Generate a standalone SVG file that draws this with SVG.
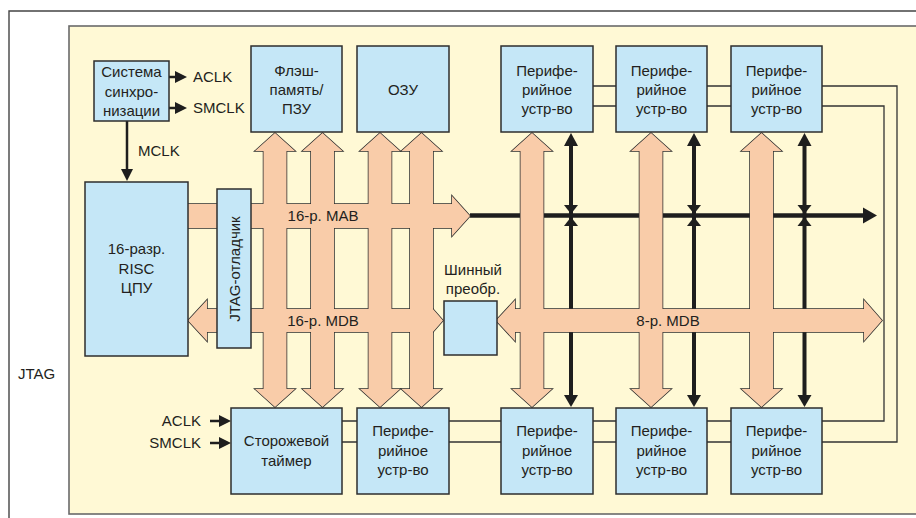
<svg xmlns="http://www.w3.org/2000/svg" width="916" height="518" viewBox="0 0 916 518">
<defs>
<style>
.frame{fill:none;stroke:#444;stroke-width:1.4}
.ybox{fill:#FFF9D5;stroke:#6a6a6a;stroke-width:1.6}
.sig{fill:none;stroke:#333;stroke-width:1.3}
.box{fill:#C5E7F7;stroke:#2e2e2e;stroke-width:1.5}
.busS{fill:#F9CCA9;stroke:#2e2e2e;stroke-width:1.5}
.busF{fill:#F9CCA9;stroke:none}
.blk{stroke:#1e1e1e;stroke-width:4;fill:none}
.thin{stroke:#1e1e1e;stroke-width:2.5;fill:none}
.ah{fill:#1e1e1e;stroke:none}
.t{font-family:"Liberation Sans",Arial,sans-serif;font-size:15px;fill:#231f20;text-anchor:middle}
.ts{font-family:"Liberation Sans",Arial,sans-serif;font-size:15px;fill:#231f20}
.te{font-family:"Liberation Sans",Arial,sans-serif;font-size:15px;fill:#231f20;text-anchor:end}
</style>
<path id="vbus" d="M0,133 L20,151 H11.5 V389 H20 L0,407 L-20,389 H-11.5 V151 H-20 Z"/>
<path id="mab" d="M188,204 H452 V196 L470,216 L452,236 V228 H188 Z"/>
<path id="mdb16" d="M188,320.5 L207,300 V309 H425 V300 L443,320.5 L425,341 V332 H207 V341 Z"/>
<path id="mdb8" d="M496,320.5 L515,300 V309 H864 V300 L882,320.5 L864,341 V332 H515 V341 Z"/>
<g id="addr">
<line x1="0" y1="144" x2="0" y2="396" class="blk"/>
<polygon class="ah" points="0,133 7,146 -7,146"/>
<polygon class="ah" points="-7,205 7,205 0,214"/>
<polygon class="ah" points="-7,226 7,226 0,217"/>
<polygon class="ah" points="0,407 7,395 -7,395"/>
</g>
</defs>

<g id="frame">
<path class="frame" d="M9,518 V11 H916"/>
<rect class="ybox" x="69" y="26" width="900" height="488"/>
<text class="ts" x="18" y="379">JTAG</text>
</g>

<g id="connectors">
<path class="sig" d="M547,86 H897 V442 H300"/>
<path class="sig" d="M547,106 H884 V421 H300"/>
<line x1="470" y1="215.5" x2="866" y2="215.5" stroke="#1e1e1e" stroke-width="4.5"/>
<polygon class="ah" points="863,207.5 877,215.5 863,223.5"/>

<use href="#addr" x="571"/>
<use href="#addr" x="694"/>
<use href="#addr" x="804.5"/>

<g id="buses-stroke">
<use href="#mab" class="busS"/>
<use href="#mdb16" class="busS"/>
<use href="#mdb8" class="busS"/>
<use href="#vbus" class="busS" x="275"/>
<use href="#vbus" class="busS" x="322.5"/>
<use href="#vbus" class="busS" x="380"/>
<use href="#vbus" class="busS" x="421.5"/>
<use href="#vbus" class="busS" x="532"/>
<use href="#vbus" class="busS" x="651"/>
<use href="#vbus" class="busS" x="761.5"/>
</g>
<g id="buses-fill">
<use href="#mab" class="busF"/>
<use href="#mdb16" class="busF"/>
<use href="#mdb8" class="busF"/>
<use href="#vbus" class="busF" x="275"/>
<use href="#vbus" class="busF" x="322.5"/>
<use href="#vbus" class="busF" x="380"/>
<use href="#vbus" class="busF" x="421.5"/>
<use href="#vbus" class="busF" x="532"/>
<use href="#vbus" class="busF" x="651"/>
<use href="#vbus" class="busF" x="761.5"/>
</g>
<text class="t" x="323" y="221">16-р. MAB</text>
<text class="t" x="323" y="326">16-р. MDB</text>
<text class="t" x="668" y="326">8-р. MDB</text>

<line class="thin" x1="169" y1="77" x2="176" y2="77"/>
<polygon class="ah" points="175,71 187,77 175,83"/>
<line class="thin" x1="169" y1="108" x2="176" y2="108"/>
<polygon class="ah" points="175,102 187,108 175,114"/>
<line class="thin" x1="127" y1="121" x2="127" y2="170"/>
<polygon class="ah" points="121,169 133,169 127,181"/>
<line class="thin" x1="210" y1="421" x2="220" y2="421"/>
<polygon class="ah" points="219,415 231,421 219,427"/>
<line class="thin" x1="210" y1="443" x2="220" y2="443"/>
<polygon class="ah" points="219,437 231,443 219,449"/>
<text class="ts" x="193" y="82">ACLK</text>
<text class="ts" x="193" y="113">SMCLK</text>
<text class="ts" x="138" y="156">MCLK</text>
<text class="te" x="201" y="426">ACLK</text>
<text class="te" x="201" y="448">SMCLK</text>
</g>

<g id="sync">
<rect class="box" x="94" y="61" width="75" height="60"/>
<text class="t" x="131.5" y="77">Система</text>
<text class="t" x="131.5" y="96.5">синхро-</text>
<text class="t" x="131.5" y="116">низации</text>
</g>
<g id="cpu">
<rect class="box" x="85" y="182" width="103" height="174"/>
<text class="t" x="136.5" y="254">16-разр.</text>
<text class="t" x="136.5" y="274">RISC</text>
<text class="t" x="136.5" y="293">ЦПУ</text>
</g>
<g id="jtag-debugger">
<rect class="box" x="217" y="189" width="34" height="159"/>
<text class="t" transform="translate(240,269) rotate(-90)">JTAG-отладчик</text>
</g>
<g id="flash">
<rect class="box" x="251" y="46" width="91" height="86"/>
<text class="t" x="296.5" y="76">Флэш-</text>
<text class="t" x="296.5" y="95">память/</text>
<text class="t" x="296.5" y="114">ПЗУ</text>
</g>
<g id="ram">
<rect class="box" x="357" y="46" width="92" height="86"/>
<text class="t" x="403" y="94.5">ОЗУ</text>
</g>
<g id="per-t1">
<rect class="box" x="501" y="46" width="92" height="86"/>
<text class="t" x="547" y="76">Перифе-</text>
<text class="t" x="547" y="95">рийное</text>
<text class="t" x="547" y="114">устр-во</text>
</g>
<g id="per-t2">
<rect class="box" x="616" y="46" width="91" height="86"/>
<text class="t" x="661.5" y="76">Перифе-</text>
<text class="t" x="661.5" y="95">рийное</text>
<text class="t" x="661.5" y="114">устр-во</text>
</g>
<g id="per-t3">
<rect class="box" x="731" y="46" width="91" height="86"/>
<text class="t" x="776.5" y="76">Перифе-</text>
<text class="t" x="776.5" y="95">рийное</text>
<text class="t" x="776.5" y="114">устр-во</text>
</g>
<g id="bus-conv">
<rect class="box" x="444" y="301" width="53" height="54"/>
<text class="t" x="473" y="275">Шинный</text>
<text class="t" x="473" y="294">преобр.</text>
</g>
<g id="watchdog">
<rect class="box" x="231" y="408" width="111" height="86"/>
<text class="t" x="286.5" y="446">Сторожевой</text>
<text class="t" x="286.5" y="466">таймер</text>
</g>
<g id="per-b0">
<rect class="box" x="357" y="408" width="92" height="86"/>
<text class="t" x="403" y="436">Перифе-</text>
<text class="t" x="403" y="455.5">рийное</text>
<text class="t" x="403" y="475">устр-во</text>
</g>
<g id="per-b1">
<rect class="box" x="501" y="408" width="92" height="86"/>
<text class="t" x="547" y="436">Перифе-</text>
<text class="t" x="547" y="455.5">рийное</text>
<text class="t" x="547" y="475">устр-во</text>
</g>
<g id="per-b2">
<rect class="box" x="616" y="408" width="91" height="86"/>
<text class="t" x="661.5" y="436">Перифе-</text>
<text class="t" x="661.5" y="455.5">рийное</text>
<text class="t" x="661.5" y="475">устр-во</text>
</g>
<g id="per-b3">
<rect class="box" x="731" y="408" width="91" height="86"/>
<text class="t" x="776.5" y="436">Перифе-</text>
<text class="t" x="776.5" y="455.5">рийное</text>
<text class="t" x="776.5" y="475">устр-во</text>
</g>
</svg>
